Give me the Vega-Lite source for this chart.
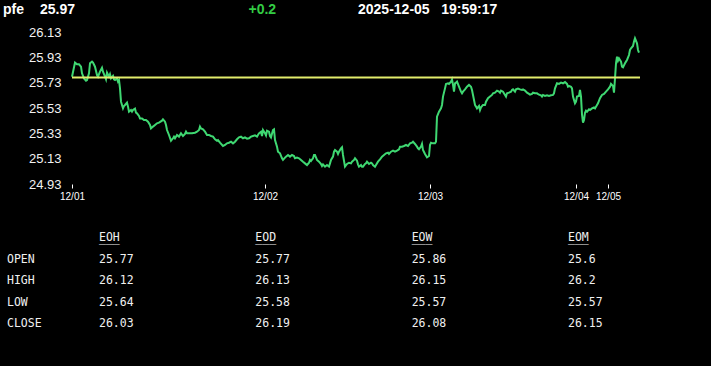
{
  "$schema": "https://vega.github.io/schema/vega-lite/v6.json",
  "width": 568,
  "height": 152,
  "autosize": "none",
  "padding": {"left": 72, "top": 32, "right": 71, "bottom": 182},
  "background": "#000000",
  "config": {"view": {"stroke": null}, "font": "Liberation Sans", "axis": {"grid": false, "domain": false}},
  "datasets": {
    "px": [
      {"i":0,"v":25.777},{"i":3,"v":25.888},{"i":5,"v":25.875},{"i":7,"v":25.875},{"i":9,"v":25.856},{"i":10,"v":25.804},{"i":12,"v":25.764},{"i":14,"v":25.746},{"i":15,"v":25.751},{"i":17,"v":25.804},{"i":18,"v":25.883},{"i":20,"v":25.896},{"i":21,"v":25.888},{"i":23,"v":25.856},{"i":25,"v":25.79},{"i":26,"v":25.777},{"i":28,"v":25.817},{"i":30,"v":25.848},{"i":31,"v":25.817},{"i":33,"v":25.777},{"i":34,"v":25.756},{"i":35,"v":25.809},{"i":37,"v":25.777},{"i":38,"v":25.796},{"i":39,"v":25.764},{"i":41,"v":25.783},{"i":42,"v":25.756},{"i":43,"v":25.751},{"i":45,"v":25.764},{"i":46,"v":25.738},{"i":47,"v":25.751},{"i":48,"v":25.685},{"i":49,"v":25.58},{"i":51,"v":25.527},{"i":52,"v":25.546},{"i":53,"v":25.554},{"i":55,"v":25.572},{"i":56,"v":25.541},{"i":57,"v":25.501},{"i":59,"v":25.514},{"i":60,"v":25.501},{"i":61,"v":25.514},{"i":63,"v":25.525},{"i":64,"v":25.493},{"i":65,"v":25.488},{"i":67,"v":25.467},{"i":68,"v":25.448},{"i":70,"v":25.448},{"i":72,"v":25.435},{"i":74,"v":25.435},{"i":76,"v":25.422},{"i":78,"v":25.396},{"i":79,"v":25.369},{"i":81,"v":25.383},{"i":83,"v":25.396},{"i":85,"v":25.409},{"i":87,"v":25.414},{"i":90,"v":25.43},{"i":91,"v":25.441},{"i":93,"v":25.422},{"i":94,"v":25.396},{"i":95,"v":25.356},{"i":97,"v":25.317},{"i":99,"v":25.272},{"i":101,"v":25.291},{"i":102,"v":25.304},{"i":103,"v":25.291},{"i":105,"v":25.317},{"i":107,"v":25.304},{"i":109,"v":25.33},{"i":111,"v":25.309},{"i":113,"v":25.325},{"i":114,"v":25.343},{"i":115,"v":25.33},{"i":117,"v":25.33},{"i":120,"v":25.33},{"i":123,"v":25.335},{"i":125,"v":25.343},{"i":127,"v":25.356},{"i":128,"v":25.383},{"i":129,"v":25.369},{"i":131,"v":25.362},{"i":133,"v":25.343},{"i":135,"v":25.317},{"i":137,"v":25.317},{"i":139,"v":25.309},{"i":141,"v":25.304},{"i":143,"v":25.283},{"i":145,"v":25.272},
      {"i":146,"v":25.277},{"i":148,"v":25.256},{"i":151,"v":25.23},{"i":153,"v":25.238},{"i":155,"v":25.251},{"i":157,"v":25.256},{"i":159,"v":25.264},{"i":161,"v":25.251},{"i":163,"v":25.264},{"i":165,"v":25.283},{"i":167,"v":25.298},{"i":169,"v":25.304},{"i":171,"v":25.291},{"i":173,"v":25.298},{"i":175,"v":25.288},{"i":177,"v":25.291},{"i":179,"v":25.304},{"i":181,"v":25.309},{"i":183,"v":25.314},{"i":185,"v":25.304},{"i":187,"v":25.33},{"i":189,"v":25.343},{"i":190,"v":25.309},{"i":191,"v":25.356},{"i":193,"v":25.33},{"i":194,"v":25.314},{"i":195,"v":25.351},{"i":197,"v":25.343},{"i":198,"v":25.309},{"i":199,"v":25.298},{"i":201,"v":25.356},{"i":202,"v":25.362},{"i":203,"v":25.277},{"i":205,"v":25.225},{"i":206,"v":25.185},{"i":208,"v":25.172},{"i":210,"v":25.133},{"i":211,"v":25.12},{"i":213,"v":25.138},{"i":214,"v":25.146},{"i":216,"v":25.159},{"i":218,"v":25.146},{"i":220,"v":25.159},{"i":222,"v":25.151},{"i":223,"v":25.133},{"i":225,"v":25.138},{"i":227,"v":25.133},{"i":229,"v":25.12},{"i":231,"v":25.106},{"i":233,"v":25.093},{"i":235,"v":25.08},{"i":237,"v":25.098},{"i":238,"v":25.12},{"i":239,"v":25.112},{"i":241,"v":25.133},{"i":242,"v":25.159},{"i":243,"v":25.159},{"i":245,"v":25.12},{"i":247,"v":25.106},{"i":249,"v":25.088},{"i":250,"v":25.072},{"i":251,"v":25.085},{"i":253,"v":25.067},{"i":255,"v":25.08},{"i":257,"v":25.067},{"i":258,"v":25.093},{"i":259,"v":25.12},{"i":261,"v":25.146},{"i":262,"v":25.185},{"i":263,"v":25.198},{"i":265,"v":25.185},{"i":266,"v":25.167},{"i":267,"v":25.185},{"i":269,"v":25.212},{"i":270,"v":25.22},{"i":271,"v":25.159},{"i":273,"v":25.067},{"i":275,"v":25.088},{"i":277,"v":25.098},{"i":279,"v":25.093},{"i":280,"v":25.106},{"i":282,"v":25.12},{"i":283,"v":25.133},{"i":285,"v":25.114},{"i":286,"v":25.085},{"i":287,"v":25.067},{"i":289,"v":25.08},{"i":290,"v":25.067},
      {"i":291,"v":25.067},{"i":293,"v":25.088},{"i":294,"v":25.093},{"i":295,"v":25.106},{"i":297,"v":25.088},{"i":299,"v":25.098},{"i":300,"v":25.093},{"i":301,"v":25.08},{"i":303,"v":25.067},{"i":304,"v":25.08},{"i":306,"v":25.106},{"i":308,"v":25.125},{"i":310,"v":25.146},{"i":312,"v":25.159},{"i":314,"v":25.172},{"i":316,"v":25.177},{"i":317,"v":25.167},{"i":319,"v":25.185},{"i":321,"v":25.193},{"i":323,"v":25.185},{"i":325,"v":25.193},{"i":327,"v":25.204},{"i":328,"v":25.225},{"i":330,"v":25.225},{"i":332,"v":25.23},{"i":334,"v":25.238},{"i":336,"v":25.23},{"i":338,"v":25.251},{"i":340,"v":25.256},{"i":341,"v":25.264},{"i":343,"v":25.246},{"i":345,"v":25.225},{"i":346,"v":25.212},{"i":347,"v":25.204},{"i":349,"v":25.225},{"i":350,"v":25.246},{"i":351,"v":25.198},{"i":353,"v":25.167},{"i":355,"v":25.141},{"i":357,"v":25.151},{"i":358,"v":25.238},{"i":359,"v":25.256},{"i":361,"v":25.251},{"i":363,"v":25.251},{"i":364,"v":25.264},{"i":365,"v":25.462},{"i":367,"v":25.501},{"i":369,"v":25.527},{"i":370,"v":25.554},{"i":371,"v":25.62},{"i":373,"v":25.685},{"i":374,"v":25.72},{"i":376,"v":25.725},{"i":377,"v":25.72},{"i":379,"v":25.738},{"i":380,"v":25.756},{"i":381,"v":25.712},{"i":382,"v":25.659},{"i":383,"v":25.725},{"i":384,"v":25.73},{"i":385,"v":25.738},{"i":387,"v":25.698},{"i":389,"v":25.659},{"i":390,"v":25.646},{"i":391,"v":25.659},{"i":393,"v":25.677},{"i":395,"v":25.698},{"i":397,"v":25.712},{"i":399,"v":25.698},{"i":400,"v":25.672},{"i":401,"v":25.633},{"i":403,"v":25.554},{"i":404,"v":25.541},{"i":405,"v":25.527},{"i":407,"v":25.546},{"i":408,"v":25.514},{"i":409,"v":25.535},{"i":411,"v":25.554},{"i":413,"v":25.554},{"i":414,"v":25.58},{"i":416,"v":25.607},{"i":418,"v":25.62},{"i":420,"v":25.633},{"i":421,"v":25.646},{"i":423,"v":25.651},{"i":425,"v":25.667},{"i":427,"v":25.659},{"i":428,"v":25.651},{"i":429,"v":25.667},{"i":431,"v":25.659},{"i":433,"v":25.633},{"i":434,"v":25.62},
      {"i":435,"v":25.646},{"i":437,"v":25.651},{"i":439,"v":25.659},{"i":440,"v":25.672},{"i":441,"v":25.677},{"i":443,"v":25.659},{"i":444,"v":25.677},{"i":446,"v":25.683},{"i":448,"v":25.677},{"i":450,"v":25.672},{"i":451,"v":25.677},{"i":453,"v":25.667},{"i":455,"v":25.651},{"i":457,"v":25.641},{"i":458,"v":25.635},{"i":460,"v":25.641},{"i":461,"v":25.651},{"i":463,"v":25.646},{"i":465,"v":25.646},{"i":467,"v":25.635},{"i":469,"v":25.63},{"i":470,"v":25.62},{"i":471,"v":25.633},{"i":473,"v":25.625},{"i":475,"v":25.63},{"i":477,"v":25.625},{"i":479,"v":25.63},{"i":481,"v":25.633},{"i":482,"v":25.646},{"i":483,"v":25.685},{"i":485,"v":25.725},{"i":487,"v":25.72},{"i":489,"v":25.73},{"i":491,"v":25.725},{"i":493,"v":25.735},{"i":495,"v":25.72},{"i":496,"v":25.698},{"i":497,"v":25.704},{"i":499,"v":25.698},{"i":500,"v":25.685},{"i":501,"v":25.62},{"i":503,"v":25.567},{"i":504,"v":25.58},{"i":505,"v":25.62},{"i":507,"v":25.625},{"i":508,"v":25.672},{"i":509,"v":25.62},{"i":510,"v":25.48},{"i":511,"v":25.414},{"i":512,"v":25.435},{"i":513,"v":25.493},{"i":514,"v":25.509},{"i":515,"v":25.501},{"i":517,"v":25.52},{"i":518,"v":25.514},{"i":520,"v":25.527},{"i":522,"v":25.535},{"i":523,"v":25.527},{"i":525,"v":25.554},{"i":526,"v":25.567},{"i":528,"v":25.607},{"i":530,"v":25.633},{"i":532,"v":25.641},{"i":534,"v":25.659},{"i":536,"v":25.677},{"i":538,"v":25.698},{"i":539,"v":25.72},{"i":541,"v":25.704},{"i":542,"v":25.651},{"i":543,"v":25.764},{"i":544,"v":25.883},{"i":545,"v":25.935},{"i":546,"v":25.904},{"i":547,"v":25.922},{"i":549,"v":25.896},{"i":550,"v":25.856},{"i":551,"v":25.851},{"i":553,"v":25.883},{"i":554,"v":25.896},{"i":555,"v":25.909},{"i":557,"v":25.948},{"i":558,"v":25.988},{"i":559,"v":26.001},{"i":561,"v":26.02},{"i":562,"v":26.054},{"i":563,"v":26.08},{"i":565,"v":26.041},{"i":566,"v":25.988},{"i":567,"v":25.967}
    ],
    "ref": [{"open": 25.77}],
    "tbl": [
      {"col":"EOH","row":"OPEN","val":25.77},{"col":"EOD","row":"OPEN","val":25.77},{"col":"EOW","row":"OPEN","val":25.86},{"col":"EOM","row":"OPEN","val":25.6},
      {"col":"EOH","row":"HIGH","val":26.12},{"col":"EOD","row":"HIGH","val":26.13},{"col":"EOW","row":"HIGH","val":26.15},{"col":"EOM","row":"HIGH","val":26.2},
      {"col":"EOH","row":"LOW","val":25.64},{"col":"EOD","row":"LOW","val":25.58},{"col":"EOW","row":"LOW","val":25.57},{"col":"EOM","row":"LOW","val":25.57},
      {"col":"EOH","row":"CLOSE","val":26.03},{"col":"EOD","row":"CLOSE","val":26.19},{"col":"EOW","row":"CLOSE","val":26.08},{"col":"EOM","row":"CLOSE","val":26.15}
    ],
    "colhdr": [
      {"col":"EOH","ul":"___"},{"col":"EOD","ul":"___"},{"col":"EOW","ul":"___"},{"col":"EOM","ul":"___"}
    ],
    "rowlab": [{"row":"OPEN"},{"row":"HIGH"},{"row":"LOW"},{"row":"CLOSE"}],
    "hdr1": [{"k":"sym","t":"pfe"},{"k":"price","t":"25.97"}],
    "hdr2": [{"k":"chg","t":"+0.2"},{"k":"ts","t":"2025-12-05\u00a0\u00a0\u00a019:59:17"}]
  },
  "layer": [
    {
      "data": {"name": "px"},
      "mark": {"type": "line", "color": "#3fd872", "strokeWidth": 2, "interpolate": "linear"},
      "encoding": {
        "x": {"field": "i", "type": "quantitative", "scale": {"domain": [0, 568], "nice": false, "zero": false},
          "axis": {"values": [0, 193, 358, 504, 536], "labelExpr": "datum.value == 0 ? '12/01' : datum.value == 193 ? '12/02' : datum.value == 358 ? '12/03' : datum.value == 504 ? '12/04' : '12/05'", "title": null, "ticks": true, "tickColor": "#ffffff", "tickSize": 4, "tickWidth": 1, "labelColor": "#ffffff", "labelFont": "Liberation Sans", "labelFontSize": 10, "labelPadding": 3, "labelFlush": false, "labelOverlap": false, "domain": false, "grid": false}},
        "y": {"field": "v", "type": "quantitative", "scale": {"domain": [24.93, 26.13], "nice": false, "zero": false},
          "axis": {"values": [24.93, 25.13, 25.33, 25.53, 25.73, 25.93, 26.13], "format": ".2f", "title": null, "ticks": false, "tickSize": 0, "labelPadding": 11, "labelColor": "#f2f2f2", "labelFontSize": 13, "labelFont": "Liberation Sans", "domain": false, "grid": false}}
      }
    },
    {
      "data": {"name": "ref"},
      "mark": {"type": "rule", "color": "#e2ec6c", "strokeWidth": 2},
      "encoding": {
        "y": {"field": "open", "type": "quantitative", "scale": {"domain": [24.93, 26.13], "nice": false, "zero": false}, "axis": null}
      }
    },
    {
      "data": {"name": "tbl"},
      "mark": {"type": "text", "align": "left", "baseline": "middle", "font": "DejaVu Sans Mono", "fontSize": 11.5, "color": "#f0f0f0"},
      "encoding": {
        "x": {"field": "col", "type": "nominal", "scale": {"type": "point", "domain": ["EOH", "EOD", "EOW", "EOM"], "range": [27, 496], "padding": 0}, "axis": null},
        "y": {"field": "row", "type": "nominal", "scale": {"type": "point", "domain": ["hdr", "OPEN", "HIGH", "LOW", "CLOSE"], "range": [206, 292], "padding": 0}, "axis": null},
        "text": {"field": "val", "type": "nominal"}
      }
    },
    {
      "data": {"name": "colhdr"},
      "mark": {"type": "text", "align": "left", "baseline": "middle", "font": "DejaVu Sans Mono", "fontSize": 11.5, "color": "#f0f0f0"},
      "encoding": {
        "x": {"field": "col", "type": "nominal", "scale": {"type": "point", "domain": ["EOH", "EOD", "EOW", "EOM"], "range": [27, 496], "padding": 0}, "axis": null},
        "y": {"datum": "hdr", "type": "nominal", "scale": {"type": "point", "domain": ["hdr", "OPEN", "HIGH", "LOW", "CLOSE"], "range": [206, 292], "padding": 0}, "axis": null},
        "text": {"field": "col", "type": "nominal"}
      }
    },
    {
      "data": {"name": "colhdr"},
      "mark": {"type": "text", "align": "left", "baseline": "middle", "font": "DejaVu Sans Mono", "fontSize": 11.5, "color": "#f0f0f0"},
      "encoding": {
        "x": {"field": "col", "type": "nominal", "scale": {"type": "point", "domain": ["EOH", "EOD", "EOW", "EOM"], "range": [27, 496], "padding": 0}, "axis": null},
        "y": {"datum": "hdr", "type": "nominal", "scale": {"type": "point", "domain": ["hdr", "OPEN", "HIGH", "LOW", "CLOSE"], "range": [207, 293], "padding": 0}, "axis": null},
        "text": {"field": "ul", "type": "nominal"}
      }
    },
    {
      "data": {"name": "rowlab"},
      "mark": {"type": "text", "align": "left", "baseline": "middle", "font": "DejaVu Sans Mono", "fontSize": 11.5, "color": "#f0f0f0"},
      "encoding": {
        "x": {"datum": "lbl", "type": "nominal", "scale": {"type": "point", "domain": ["lbl"], "range": [-65, -65], "padding": 0}, "axis": null},
        "y": {"field": "row", "type": "nominal", "scale": {"type": "point", "domain": ["hdr", "OPEN", "HIGH", "LOW", "CLOSE"], "range": [206, 292], "padding": 0}, "axis": null},
        "text": {"field": "row", "type": "nominal"}
      }
    },
    {
      "data": {"name": "hdr1"},
      "mark": {"type": "text", "align": "left", "baseline": "middle", "font": "Liberation Sans", "fontSize": 14, "fontWeight": "bold", "color": "#ffffff"},
      "encoding": {
        "x": {"field": "k", "type": "nominal", "scale": {"type": "point", "domain": ["sym", "price"], "range": [-69, -32], "padding": 0}, "axis": null},
        "y": {"datum": "top", "type": "nominal", "scale": {"type": "point", "domain": ["top"], "range": [-22, -22], "padding": 0}, "axis": null},
        "text": {"field": "t", "type": "nominal"}
      }
    },
    {
      "data": {"name": "hdr2"},
      "mark": {"type": "text", "align": "left", "baseline": "middle", "font": "Liberation Sans", "fontSize": 14, "fontWeight": "bold"},
      "encoding": {
        "x": {"field": "k", "type": "nominal", "scale": {"type": "point", "domain": ["chg", "ts"], "range": [176.5, 286], "padding": 0}, "axis": null},
        "y": {"datum": "top", "type": "nominal", "scale": {"type": "point", "domain": ["top"], "range": [-22, -22], "padding": 0}, "axis": null},
        "text": {"field": "t", "type": "nominal"},
        "color": {"field": "k", "type": "nominal", "scale": {"domain": ["chg", "ts"], "range": ["#33cc44", "#ffffff"]}, "legend": null}
      }
    }
  ],
  "resolve": {"scale": {"x": "independent", "y": "independent", "color": "independent"}}
}
